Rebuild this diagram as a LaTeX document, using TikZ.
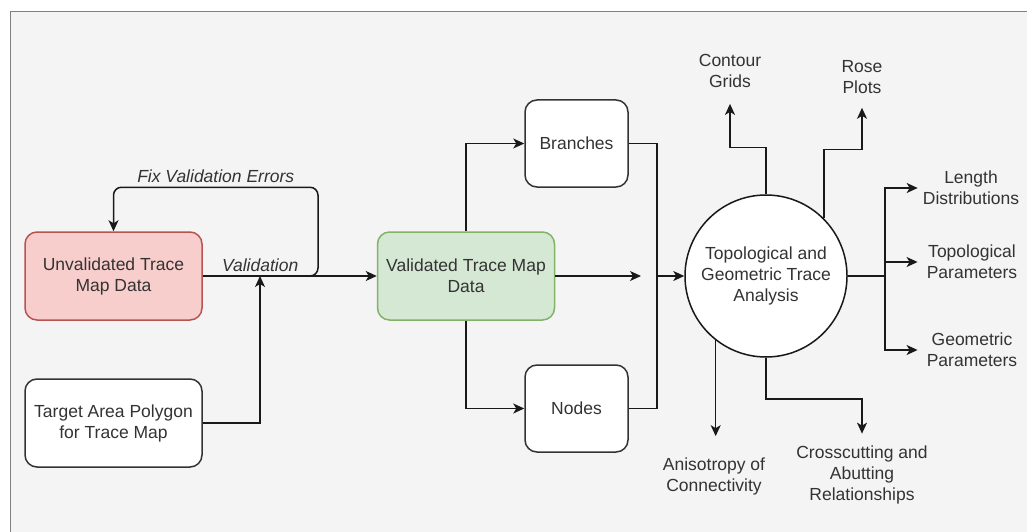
\documentclass[tikz,border=0pt]{standalone}
\usepackage{fontspec}
\setmainfont{Liberation Sans}
\usetikzlibrary{arrows.meta}
\definecolor{canvas}{HTML}{F4F4F4}
\definecolor{redfill}{HTML}{F8CECC}
\definecolor{reddraw}{HTML}{B85450}
\definecolor{greenfill}{HTML}{D5E8D4}
\definecolor{greendraw}{HTML}{82B366}
\definecolor{ink}{HTML}{333333}

\begin{document}
\begin{tikzpicture}[x=1pt, y=-1pt, font=\fontsize{17.5}{21}\selectfont]
            \tikzstyle{stage} = [draw=ink, line width=1.5pt, fill=white, rounded corners=12pt, minimum width=177pt, minimum height=88pt, align=center, text=ink]
            \tikzstyle{part} = [stage, minimum width=103pt, minimum height=87pt]
            \tikzstyle{outcome} = [align=center, text=ink, inner sep=0pt]
            \tikzstyle{wire} = [line width=1.5pt, draw=black!90]
            \tikzstyle{flow} = [wire, -{Stealth[length=11pt, width=10pt, inset=3pt]}]
            \useasboundingbox (0,0) rectangle (1027,532);
            \fill[white] (0,0) rectangle (1027,532);
            \filldraw[fill=canvas, draw=gray, line width=1.5pt] (10.5,11.5) rectangle (1040,545);
            % input data
            \node[stage, fill=redfill, draw=reddraw] (raw) at (113.5,276) {Unvalidated Trace\\Map Data};
            \node[stage] (area) at (113.5,423) {Target Area Polygon\\for Trace Map};
            \node[stage, fill=greenfill, draw=greendraw] (valid) at (466,276) {Validated Trace Map\\Data};
            \node[part] (branches) at (576.5,143.5) {Branches};
            \node[part] (nodes) at (576.5,408.5) {Nodes};
            \node[circle, draw=black!90, line width=1.5pt, fill=white, minimum size=162pt, inner sep=0pt, align=center, text=ink] (analysis) at (766,276) {Topological and\\Geometric Trace\\Analysis};
            % results
            \node[outcome] (contour) at (730,71) {Contour\\Grids};
            \node[outcome] (rose) at (862,77) {Rose\\Plots};
            \node[outcome] (length) at (971,188) {Length\\Distributions};
            \node[outcome] (topo) at (972,262) {Topological\\Parameters};
            \node[outcome] (geom) at (972,350) {Geometric\\Parameters};
            \node[outcome] (aniso) at (714,476) {Anisotropy of\\Connectivity};
            \node[outcome] (cross) at (862,475) {Crosscutting and\\Abutting\\Relationships};
            % validation
            \coordinate (merge) at (260,276);
            \coordinate (fixstart) at (297,276);
            \draw[flow] (raw) -- node[pos=0.33, above, text=ink] {\itshape Validation} (valid);
            \draw[flow] (area.east) -| (merge);
            \draw[flow, rounded corners=8pt] (fixstart) -- ++(21,0) |- node[pos=0.75, above, text=ink] {\itshape Fix Validation Errors} ([yshift=44pt]raw.north) -- (raw.north);
            % branches and nodes
            \coordinate (pass) at (641,276);
            \coordinate (join) at (657,276);
            \draw[flow] (valid.north) |- (branches.west);
            \draw[flow] (valid.south) |- (nodes.west);
            \draw[flow] (valid.east) -- (pass);
            \draw[wire] (branches.east) -| (join);
            \draw[wire] (nodes.east) -| (join);
            \draw[flow] (join) -- (analysis.west);
            % analysis outputs
            \coordinate (fan) at (885,276);
            \draw[flow, shorten >=16pt] (analysis.north) -- ++(0,-47) -| (contour.south);
            \draw[flow, shorten >=14pt] (analysis.north east) -- ++(0,-68.5) -| (rose.south);
            \draw[wire] (analysis.east) -- (fan);
            \draw[flow, shorten >=5pt] (fan) |- (length.west);
            \draw[flow, shorten >=9pt] (fan) |- (topo.west);
            \draw[flow, shorten >=9pt] (fan) |- (geom.west);
            \draw[flow, shorten >=21pt] (analysis.232) -- (analysis.232 |- aniso.north);
            \draw[flow, shorten >=12pt] (analysis.south) -- ++(0,41) -| (cross.north);
        \end{tikzpicture}
\end{document}
